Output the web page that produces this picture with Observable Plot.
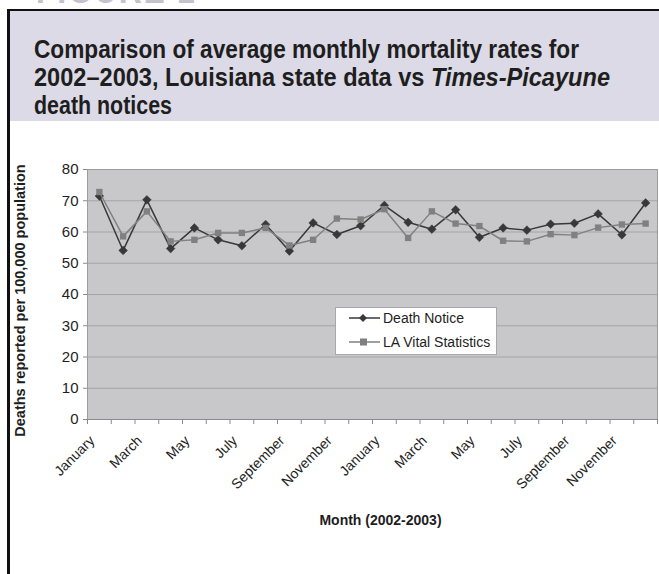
<!DOCTYPE html>
<html>
<head>
<meta charset="utf-8">
<script src="https://cdn.jsdelivr.net/npm/d3@7"></script>
<script src="https://cdn.jsdelivr.net/npm/@observablehq/plot@0.6"></script>
<style>
  html, body { margin: 0; padding: 0; background: #fff; }
  #wrap { position: relative; width: 659px; height: 574px; overflow: hidden; background: #fff; }
  #fig { position: absolute; left: 36px; top: -33px; font: bold 40px "Liberation Sans", Arial, sans-serif; color: #c4c2cc; white-space: nowrap; transform-origin: 0 0; transform: scaleX(0.8); letter-spacing: 2px; }
  #header { position: absolute; left: 7px; top: 9px; width: 652px; height: 112px; background: #dcdae6; border-top: 2px solid #111; box-sizing: border-box; }
  #title { position: absolute; left: 27px; top: 24px; font: bold 26px/28px "Liberation Sans", Arial, sans-serif; color: #1e1e1e; }
  #title div { white-space: nowrap; height: 28px; }
  #title span { display: inline-block; transform-origin: 0 0; }
  #leftline { position: absolute; left: 7px; top: 9px; width: 3px; height: 565px; background: #111; }
  #chart { position: absolute; left: 0; top: 122px; }
  #legend { position: absolute; left: 335px; top: 307px; width: 162px; height: 48px; background: #fff; border: 1px solid #a8a8a8; box-sizing: border-box; font: 14px "Liberation Sans", Arial, sans-serif; color: #1e1e1e; }
</style>
</head>
<body>
<div id="wrap">
  <div id="fig">FIGURE 1</div>
  <div id="header">
    <div id="title"><div><span>Comparison of average monthly mortality rates for</span></div><div><span>2002–2003, Louisiana state data vs <i>Times-Picayune</i></span></div><div><span>death notices</span></div></div>
  </div>
  <div id="leftline"></div>
  <div id="chart"></div>
  <div id="legend"></div>
</div>
<script>
// ---- data ----
const months = ["January","February","March","April","May","June","July","August","September","October","November","December",
                "January","February","March","April","May","June","July","August","September","October","November","December"];
const deathNotice = [71.5, 54.1, 70.3, 54.7, 61.3, 57.5, 55.6, 62.4, 53.9, 62.9, 59.2, 62.0,
                     68.5, 63.1, 60.9, 67.1, 58.3, 61.3, 60.6, 62.5, 62.8, 65.8, 59.1, 69.3];
const vitalStats  = [72.8, 58.6, 66.6, 57.0, 57.5, 59.7, 59.7, 61.3, 55.7, 57.5, 64.3, 64.0,
                     67.3, 58.1, 66.6, 62.7, 61.9, 57.2, 57.0, 59.3, 59.0, 61.4, 62.4, 62.7];
const yTicks = [0, 10, 20, 30, 40, 50, 60, 70, 80];
const seriesNames = ["Death Notice", "LA Vital Statistics"];
const yTitle = "Deaths reported per 100,000 population";
const xTitle = "Month (2002-2003)";

// condense each title line to the reference's narrow bold face
const targetWidths = [545, 576, 138];
document.querySelectorAll("#title span").forEach((s, k) => {
  const w = s.getBoundingClientRect().width;
  s.style.transform = `scaleX(${targetWidths[k] / w})`;
});

const rows = months.map((m, i) => ({i, m, dn: deathNotice[i], vs: vitalStats[i]}));
const labelIdx = d3.range(0, 24, 2);
const cDN = "#383838", cVS = "#808080";

const chart = Plot.plot({
  width: 659, height: 452,
  marginTop: 47, marginRight: 2, marginBottom: 155, marginLeft: 87,
  x: {domain: [0, 24]},
  y: {domain: [0, 80]},
  style: {fontFamily: "'Liberation Sans', Arial, sans-serif", color: "#1e1e1e", background: "transparent", overflow: "visible"},
  marks: [
    Plot.frame({fill: "#c8c8ca", stroke: null}),
    Plot.gridY(yTicks.filter(t => t > 0 && t < 80), {stroke: "#a4a4a6", strokeOpacity: 1}),
    Plot.frame({stroke: "#9c9c9e"}),
    Plot.axisY({ticks: yTicks, tickSize: 4, tickPadding: 5, fontSize: 15, label: null, stroke: "#8a8a8a", tickFormat: d3.format("d")}),
    Plot.axisX({ticks: d3.range(25), tickSize: 5, tickFormat: () => "", label: null, stroke: "#8a8a8a"}),
    Plot.ruleY([0], {stroke: "#8a8a8a"}),
    Plot.text(labelIdx, {x: i => i + 0.5, text: i => months[i], frameAnchor: "bottom", dy: 22, dx: -4,
      rotate: -45, textAnchor: "end", lineAnchor: "bottom", fontSize: 14, fill: "#1e1e1e"}),
    Plot.text([yTitle], {frameAnchor: "left", dx: -67, dy: 6, rotate: -90, textAnchor: "middle", fontSize: 14.5, fontWeight: "bold", fill: "#1e1e1e"}),
    Plot.text([xTitle], {frameAnchor: "bottom", dx: 8, dy: 105, fontSize: 14, fontWeight: "bold", fill: "#1e1e1e"}),
    Plot.line(rows, {x: d => d.i + 0.5, y: "dn", stroke: cDN, strokeWidth: 1.5}),
    Plot.dot(rows, {x: d => d.i + 0.5, y: "dn", symbol: "diamond2", r: 3.9, fill: cDN, stroke: cDN, strokeWidth: 0.5}),
    Plot.line(rows, {x: d => d.i + 0.5, y: "vs", stroke: cVS, strokeWidth: 1.5}),
    Plot.dot(rows, {x: d => d.i + 0.5, y: "vs", symbol: "square", r: 3.6, fill: cVS, stroke: null})
  ]
});
document.getElementById("chart").appendChild(chart);

// legend
const leg = d3.select("#legend").append("svg").attr("width", 160).attr("height", 46)
  .style("position", "absolute").style("left", 0).style("top", 0);
const items = [{name: seriesNames[0], c: cDN, sym: "d"}, {name: seriesNames[1], c: cVS, sym: "s"}];
items.forEach((it, k) => {
  const y = 10 + k * 24;
  const g = leg.append("g");
  g.append("line").attr("x1", 13).attr("x2", 44).attr("y1", y).attr("y2", y).attr("stroke", it.c).attr("stroke-width", 1.5);
  if (it.sym === "d") g.append("path").attr("d", `M27,${y-4}L31,${y}L27,${y+4}L23,${y}Z`).attr("fill", it.c);
  else g.append("rect").attr("x", 24).attr("y", y - 3.5).attr("width", 7).attr("height", 7).attr("fill", it.c);
  g.append("text").attr("x", 47).attr("y", y).attr("dy", "0.35em").attr("font-size", 14)
    .attr("font-family", "'Liberation Sans', Arial, sans-serif").attr("fill", "#1e1e1e").text(it.name);
});
</script>
</body>
</html>
